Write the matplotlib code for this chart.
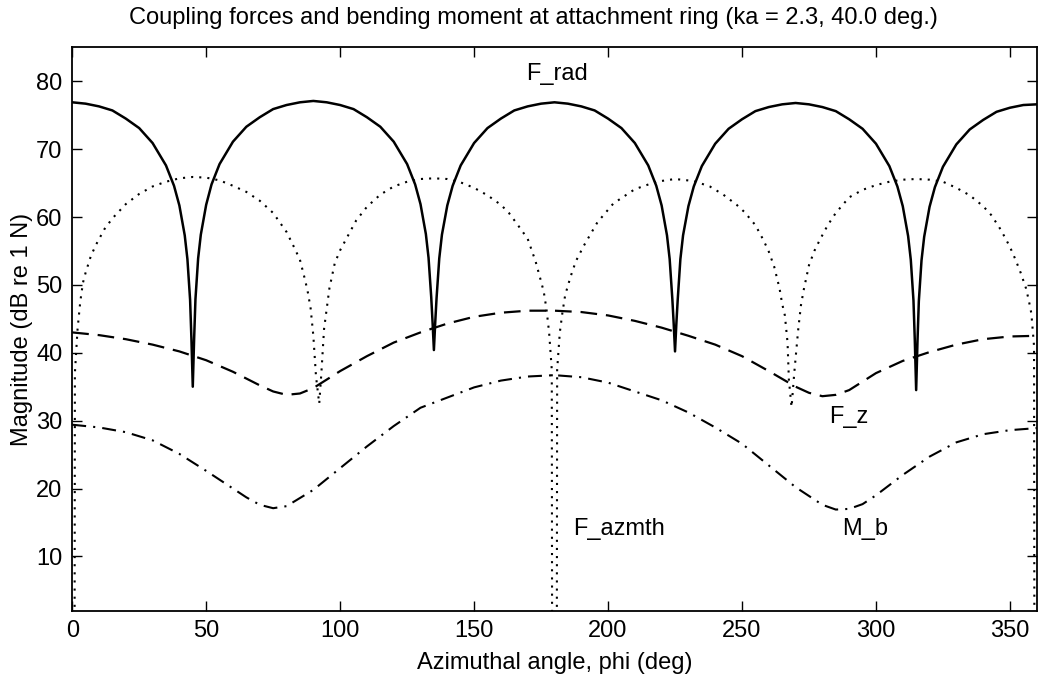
import numpy as np
import matplotlib
matplotlib.use('Agg')
import matplotlib.pyplot as plt

plt.rcParams['font.family'] = ['Liberation Sans', 'DejaVu Sans']

# radial force (solid)
phi_rad = [0, 5, 10, 15, 20, 25, 30, 35, 38, 40, 42, 43, 44, 44.5, 45, 45.5, 46, 47, 48, 50, 52, 55, 60, 65, 70, 75, 80, 85, 90,
           95, 100, 105, 110, 115, 120, 125, 128, 130, 132, 133, 134, 134.5, 135, 135.5, 136, 137, 138, 140, 142, 145, 150, 155, 160, 165, 170, 175, 180,
           185, 190, 195, 200, 205, 210, 215, 218, 220, 222, 223, 224, 224.5, 225, 225.5, 226, 227, 228, 230, 232, 235, 240, 245, 250, 255, 260, 265, 270,
           275, 280, 285, 290, 295, 300, 305, 308, 310, 312, 313, 314, 314.5, 315, 315.5, 316, 317, 318, 320, 322, 325, 330, 335, 340, 345, 350, 355, 360]
F_rad = [76.9, 76.7, 76.3, 75.7, 74.5, 73.1, 70.9, 67.6, 64.6, 61.7, 57.3, 53.8, 47.8, 42.0, 35.0, 42.0, 47.9, 53.9, 57.4, 61.8, 64.8, 67.8, 71.1, 73.3, 74.7, 75.9, 76.5, 76.9, 77.1,
         76.9, 76.5, 75.9, 74.7, 73.3, 71.1, 67.8, 64.8, 61.9, 57.5, 54.0, 48.2, 44.5, 40.4, 44.5, 48.1, 53.9, 57.4, 61.7, 64.6, 67.6, 70.9, 73.1, 74.5, 75.7, 76.3, 76.7, 76.9,
         76.7, 76.3, 75.7, 74.5, 73.1, 70.9, 67.6, 64.6, 61.7, 57.3, 53.8, 47.9, 44.3, 40.2, 44.3, 47.8, 53.8, 57.3, 61.6, 64.5, 67.5, 70.8, 73.0, 74.4, 75.6, 76.2, 76.6, 76.8,
         76.6, 76.2, 75.6, 74.4, 73.0, 70.8, 67.5, 64.5, 61.6, 57.2, 53.7, 47.7, 41.8, 34.5, 41.7, 47.6, 53.6, 57.1, 61.5, 64.4, 67.4, 70.7, 72.9, 74.3, 75.5, 76.1, 76.5, 76.6]

# azimuthal force (dotted)
phi_azm = [0, 1, 2, 3, 4, 5, 7, 9, 12, 15, 20, 25, 30, 35, 40, 45, 50, 55, 60, 65, 70, 75, 80, 83, 85, 87, 88, 89, 90, 91, 92.2, 93, 94, 95, 96, 98,
           100, 103, 106, 110, 115, 120, 125, 130, 135, 140, 145, 150, 155, 160, 163, 166, 170, 173, 175, 176, 177, 178, 179, 180,
           181, 182, 183, 184, 186, 188, 191, 196, 202, 210, 218, 225, 232, 238, 243, 248, 251, 255, 258, 260, 262, 264, 265, 266, 267, 267.5, 268.5,
           269.5, 270.3, 271, 272, 273, 275, 277, 279, 282, 285, 290, 295, 300, 305, 310, 315, 320, 325, 330, 335, 340, 343, 346, 348, 350, 352, 354, 356, 357, 358, 359, 360]
F_azmth = [-300, 37.0, 43.5, 47.5, 50.3, 51.8, 54.3, 56.0, 58.2, 59.8, 61.9, 63.4, 64.5, 65.2, 65.7, 65.9, 65.8, 65.4, 64.6, 63.7, 62.4, 60.6, 57.8, 55.4, 53.7, 50.6, 48.8, 46.5, 42.5, 36.5, 32.5, 37.0, 43.5, 46.5, 49.5, 53.2,
           55.1, 57.3, 59.5, 61.5, 63.3, 64.5, 65.2, 65.6, 65.7, 65.6, 65.1, 64.3, 63.2, 61.8, 60.6, 59.0, 56.8, 53.4, 50.5, 49.0, 46.5, 43.0, 37.5, -300,
           37.5, 43.0, 46.0, 48.5, 51.2, 53.5, 55.8, 59.2, 62.0, 64.1, 65.2, 65.6, 65.3, 64.5, 63.3, 61.8, 60.7, 58.8, 56.6, 54.9, 52.7, 49.5, 47.2, 45.5, 41.5, 36.0, 32.0,
           37.0, 40.5, 43.5, 47.0, 49.2, 52.9, 55.0, 56.6, 58.8, 60.6, 62.9, 64.0, 64.7, 65.2, 65.5, 65.6, 65.5, 65.2, 64.3, 63.2, 61.6, 60.3, 58.5, 57.1, 55.6, 53.8, 51.8, 49.5, 47.8, 45.8, 41.0, -300]

# axial force (dashed)
phi_z = [0, 10, 20, 30, 40, 50, 60, 70, 75, 80, 85, 90, 100, 110, 120, 130, 140, 150, 160, 170, 180,
         190, 200, 210, 220, 230, 240, 250, 260, 270, 275, 280, 285, 290, 300, 310, 320, 330, 340, 350, 360]
F_z = [43.0, 42.6, 42.0, 41.2, 40.2, 38.9, 37.2, 35.2, 34.3, 33.8, 34.0, 34.8, 37.3, 39.5, 41.5, 43.0, 44.3, 45.3, 45.9, 46.2, 46.2,
       46.0, 45.5, 44.7, 43.7, 42.5, 41.2, 39.5, 37.3, 35.0, 34.1, 33.6, 33.8, 34.5, 37.0, 38.8, 40.1, 41.2, 42.0, 42.4, 42.5]

# bending moment (dash-dot)
phi_mb = [0, 10, 20, 30, 40, 50, 60, 65, 70, 75, 80, 85, 90, 100, 110, 120, 130, 140, 150, 160, 170, 180,
          190, 200, 210, 220, 230, 240, 250, 260, 270, 280, 285, 290, 295, 300, 310, 320, 330, 340, 350, 360]
M_b = [29.4, 29.0, 28.3, 27.1, 25.1, 22.6, 20.0, 18.7, 17.6, 17.1, 17.4, 18.6, 19.8, 23.0, 26.2, 29.2, 31.9, 33.4, 34.9, 35.9, 36.5, 36.7,
       36.4, 35.6, 34.3, 33.0, 31.2, 29.0, 26.6, 23.4, 20.2, 17.6, 16.9, 17.0, 17.7, 19.0, 22.0, 24.7, 26.8, 28.0, 28.6, 28.9]

fs = 17

fig = plt.figure(figsize=(10.39, 6.79), dpi=100)
ax = fig.add_axes([0.0695, 0.1006, 0.9283, 0.8297])

ax.plot(phi_rad, F_rad, color='black', lw=1.8, linestyle='-')
ax.plot(phi_azm, F_azmth, color='black', lw=1.5, linestyle=(0, (1, 2.9)))
ax.plot(phi_z, F_z, color='black', lw=1.6, linestyle=(0, (7.5, 4)))
ax.plot(phi_mb, M_b, color='black', lw=1.5, linestyle=(0, (6.7, 3.4, 1, 3.4)))

ax.text(169.3, 81.1, 'F_rad', fontsize=fs, va='center', ha='left')
ax.text(282.4, 30.6, 'F_z', fontsize=fs, va='center', ha='left')
ax.text(287.3, 14.1, 'M_b', fontsize=fs, va='center', ha='left')
ax.text(186.9, 14.0, 'F_azmth', fontsize=fs, va='center', ha='left')

ax.set_xlim(0, 360)
ax.set_ylim(2, 85)
ax.set_xticks(np.arange(0, 351, 50))
ax.set_yticks(np.arange(10, 81, 10))
ax.tick_params(direction='in', top=True, right=True, length=7, width=1, labelsize=fs, pad=7)
for s in ax.spines.values():
    s.set_linewidth(1.3)

fig.text(0.513, 0.973, 'Coupling forces and bending moment at attachment ring (ka = 2.3, 40.0 deg.)',
         fontsize=fs, ha='center', va='center')
ax.set_xlabel('Azimuthal angle, phi (deg)', fontsize=fs, labelpad=7)
ax.set_ylabel('Magnitude (dB re 1 N)', fontsize=fs, labelpad=2)

fig.savefig('out.png', dpi=100)
